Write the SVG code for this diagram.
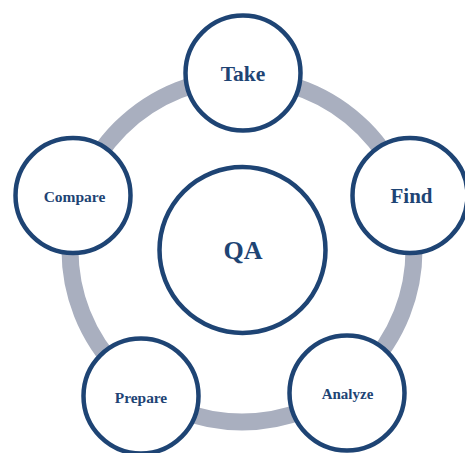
<svg xmlns="http://www.w3.org/2000/svg" width="465" height="453" viewBox="0 0 465 453">
<style>
.node{fill:#ffffff;stroke:#1e4474;stroke-width:4.5}
.lbl{fill:#1e4474;font-family:"Liberation Serif","Times New Roman",serif;font-weight:bold;text-anchor:middle}
.ring{fill:none;stroke:#a9afbf;stroke-width:17}
</style>
<rect width="465" height="453" fill="#ffffff"/>
<g id="connectors">
<circle class="ring" cx="242" cy="250" r="172"/>
</g>
<g id="qa">
<circle class="node" cx="242.5" cy="250" r="83"/>
<text class="lbl" x="243" y="259" font-size="26">QA</text>
</g>
<g id="take">
<circle class="node" cx="243" cy="73" r="57.5"/>
<text class="lbl" x="243" y="80.5" font-size="21.5">Take</text>
</g>
<g id="find">
<circle class="node" cx="410" cy="195.5" r="57.5"/>
<text class="lbl" x="411.5" y="202.5" font-size="21">Find</text>
</g>
<g id="analyze">
<circle class="node" cx="347" cy="393" r="57.5"/>
<text class="lbl" x="347.5" y="399.3" font-size="15">Analyze</text>
</g>
<g id="prepare">
<circle class="node" cx="141" cy="396" r="57.5"/>
<text class="lbl" x="141" y="402.5" font-size="15.4">Prepare</text>
</g>
<g id="compare">
<circle class="node" cx="73" cy="195.5" r="57.5"/>
<text class="lbl" x="74.5" y="201.5" font-size="15.5">Compare</text>
</g>
</svg>
